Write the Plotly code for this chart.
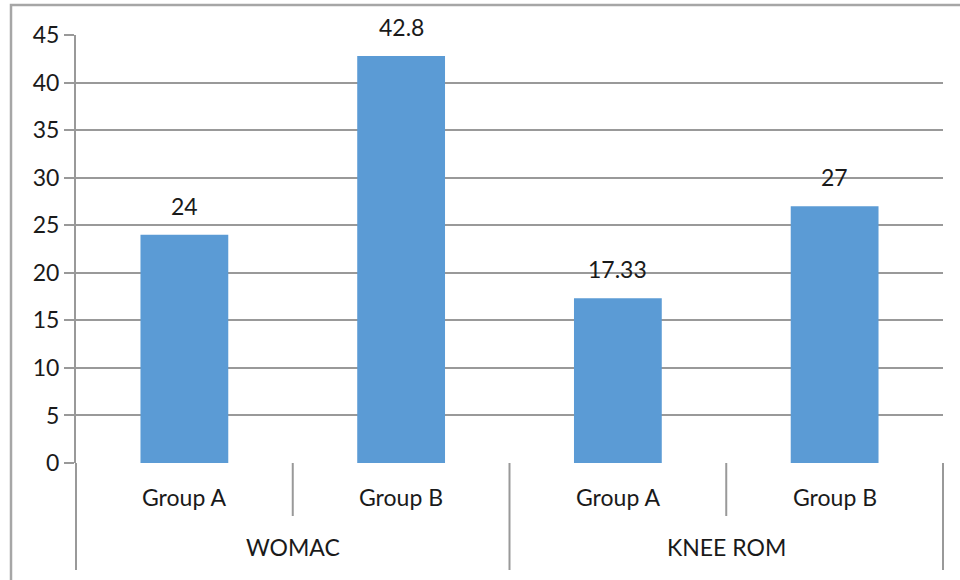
import plotly.graph_objects as go

groups = ["WOMAC", "WOMAC", "KNEE ROM", "KNEE ROM"]
subgroups = ["Group A", "Group B", "Group A", "Group B"]
values = [24, 42.8, 17.33, 27]
value_labels = ["24", "42.8", "17.33", "27"]
group_names = ["WOMAC", "KNEE ROM"]

L, R, T, B = 76, 17, 35, 117
W, H = 960, 580
pw, ph = W - L - R, H - T - B

def py(pix):
    return (H - B - pix) / ph

def px(pix):
    return (pix - L) / pw

idx = list(range(len(values)))
n = len(values)
XR = [-0.5, n - 0.5]
FONT = "Lato, Open Sans, sans-serif"
GRID = "#999999"
FS = 23
TXT = "#1a1a1a"

fig = go.Figure()
fig.add_trace(go.Bar(
    x=idx, y=values, width=0.405,
    marker=dict(color="#5B9BD5", line=dict(width=0)),
    hoverinfo="skip",
))

# value labels
for i, v, t in zip(idx, values, value_labels):
    fig.add_annotation(x=i, y=v, text=t, showarrow=False, yanchor="middle",
                       yshift=29, font=dict(size=FS, color=TXT, family=FONT))

# subgroup labels
for i, s in zip(idx, subgroups):
    fig.add_annotation(x=i, y=py(497), yref="paper", text=s, showarrow=False,
                       yanchor="middle", font=dict(size=FS, color=TXT, family=FONT))

# group labels
for g in group_names:
    pos = [i for i, gg in zip(idx, groups) if gg == g]
    fig.add_annotation(x=sum(pos) / len(pos), y=py(547), yref="paper", text=g,
                       showarrow=False, yanchor="middle",
                       font=dict(size=FS, color=TXT, family=FONT))

# separators (paper x so edge lines are not clipped)
for k in range(n + 1):
    b = k - 0.5
    xp = (b - XR[0]) / (XR[1] - XR[0])
    long_sep = (k == 0 or k == n or groups[k - 1] != groups[k])
    fig.add_shape(type="line", xref="paper", yref="paper", x0=xp, x1=xp,
                  y0=0, y1=py(570) if long_sep else py(516),
                  line=dict(color=GRID, width=2), layer="above")

# outer border
fig.add_shape(type="rect", xref="paper", yref="paper",
              x0=px(11), x1=px(1000), y0=py(620), y1=py(5),
              line=dict(color="#a6a6a6", width=2.5), layer="below")

fig.update_layout(
    width=W, height=H,
    margin=dict(l=L, r=R, t=T, b=B),
    paper_bgcolor="white", plot_bgcolor="white",
    showlegend=False,
    xaxis=dict(range=XR, showticklabels=False, showgrid=False,
               zeroline=False, showline=False, ticks=""),
    yaxis=dict(range=[0, 45], dtick=5, tick0=0, showgrid=True, gridcolor=GRID,
               gridwidth=2, zeroline=False, showline=True, linecolor=GRID,
               linewidth=2, ticks="outside", ticklen=10, tickcolor=GRID,
               tickwidth=2,
               tickfont=dict(size=FS, color=TXT, family=FONT)),
    font=dict(family=FONT),
)
fig.write_html("out.html")
